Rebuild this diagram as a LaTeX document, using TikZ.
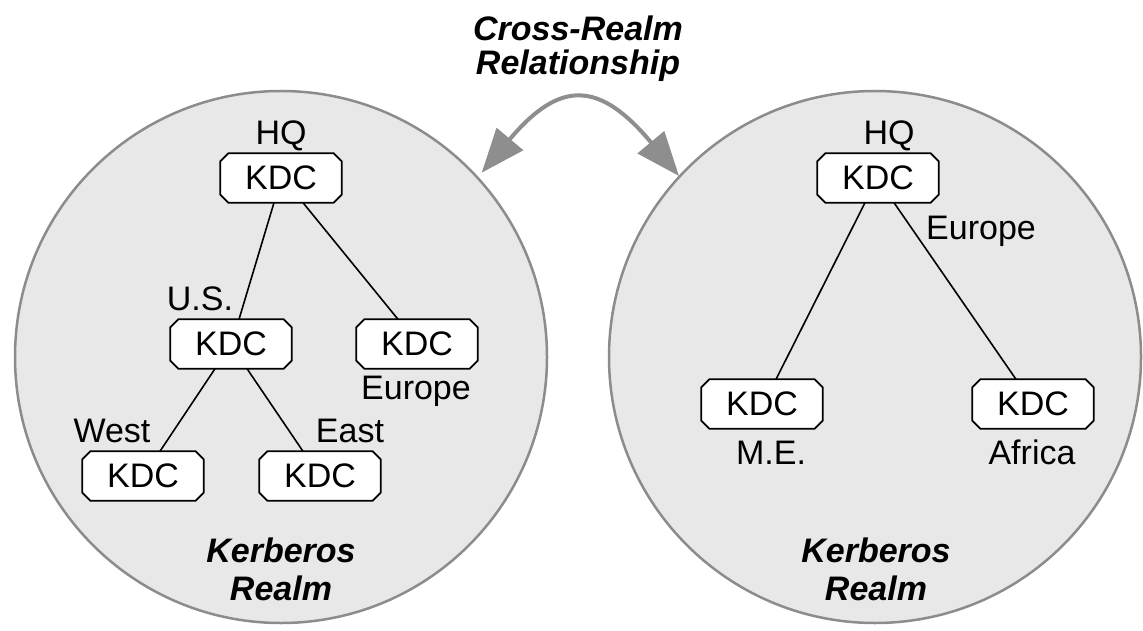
\documentclass[tikz,border=0pt]{standalone}
\usepackage{fontspec}
\setmainfont{Liberation Sans}
\usetikzlibrary{arrows.meta}
\definecolor{realmfill}{HTML}{E8E8E8}
\definecolor{realmline}{HTML}{8C8C8C}
\definecolor{arrowgray}{HTML}{8E8E8E}
\pgfdeclarelayer{realms}
\pgfdeclarelayer{boxes}
\pgfsetlayers{realms,boxes,main}
\begin{document}
\begin{tikzpicture}[x=1pt,y=-1pt,
  kdc/.style={rectangle, minimum width=121pt, minimum height=49pt,
    inner sep=0pt, font=\fontsize{34}{40}\selectfont},
  kdcframe/.style={draw=black, line width=1.8pt, fill=white, line join=miter},
  lbl/.style={font=\fontsize{34}{40}\selectfont, inner sep=0pt, anchor=base},
  realm/.style={circle, draw=realmline, line width=2.5pt, fill=realmfill, minimum size=532pt, inner sep=0pt},
  caption/.style={font=\fontsize{34}{38}\selectfont\bfseries\itshape, align=center, inner sep=0pt, anchor=north},
  conn/.style={line width=1.6pt, draw=black},
  crossarrow/.style={draw=arrowgray, line width=4pt,
    {Triangle[length=44pt,width=34pt]}-{Triangle[length=44pt,width=34pt]}}
]
\useasboundingbox (0,0) rectangle (1143,631);
\begin{pgfonlayer}{realms}
\fill[white] (0,0) rectangle (1143,631);
\node[realm] (realmL) at (281,357) {};
\node[realm] (realmR) at (875,357) {};
\end{pgfonlayer}

% left realm
\node[kdc] (hqL) at (281,178) {KDC};
\node[kdc] (usL) at (231,344) {KDC};
\node[kdc] (euL) at (417,344) {KDC};
\node[kdc] (westL) at (143,476) {KDC};
\node[kdc] (eastL) at (320,476) {KDC};

\node[lbl] (hqLlbl) at (281,145) {HQ};
\node[lbl] (usLlbl) at (200,310) {U.S.};
\node[lbl] (euLlbl) at (416,399) {Europe};
\node[lbl] (westLlbl) at (112,442) {West};
\node[lbl] (eastLlbl) at (350,442) {East};

\draw[conn] ([xshift=-7pt]hqL.south) -- ([xshift=8pt]usL.north);
\draw[conn] ([xshift=22pt]hqL.south) -- ([xshift=-19pt]euL.north);
\draw[conn] ([xshift=-16pt]usL.south) -- ([xshift=17pt]westL.north);
\draw[conn] ([xshift=16pt]usL.south) -- ([xshift=-17pt]eastL.north);

\node[caption] (realmLcap) at (281,537.5) {Kerberos\\Realm};

% right realm
\node[kdc] (hqR) at (878,178) {KDC};
\node[kdc] (meR) at (762,404) {KDC};
\node[kdc] (afR) at (1033,404) {KDC};

\node[lbl] (hqRlbl) at (889,145) {HQ};
\node[lbl] (euRlbl) at (981,240) {Europe};
\node[lbl] (meRlbl) at (771,464) {M.E.};
\node[lbl] (afRlbl) at (1032,464) {Africa};

\draw[conn] ([xshift=-13pt]hqR.south) -- ([xshift=14pt]meR.north);
\draw[conn] ([xshift=16pt]hqR.south) -- ([xshift=-17pt]afR.north);

\node[caption] (realmRcap) at (876,537.5) {Kerberos\\Realm};

% chamfered frames of the KDC boxes
\begin{pgfonlayer}{boxes}
\foreach \n in {hqL,usL,euL,westL,eastL,hqR,meR,afR}{
  \path[kdcframe] ([xshift=8pt]\n.north west) -- ([xshift=-8pt]\n.north east)
    -- ([yshift=-8pt]\n.north east) -- ([yshift=8pt]\n.south east)
    -- ([xshift=-8pt]\n.south east) -- ([xshift=8pt]\n.south west)
    -- ([yshift=8pt]\n.south west) -- ([yshift=-8pt]\n.north west) -- cycle;
}
\end{pgfonlayer}

% cross-realm relationship
\node[caption, font=\fontsize{34}{34}\selectfont\bfseries\itshape] (title) at (578,16) {Cross-Realm\\Relationship};
\coordinate (arrL) at (481.7,172.7);
\coordinate (arrR) at (679,176);
\draw[crossarrow] (arrL) .. controls (559.5,80) and (599,80) .. (arrR);
\end{tikzpicture}
\end{document}
